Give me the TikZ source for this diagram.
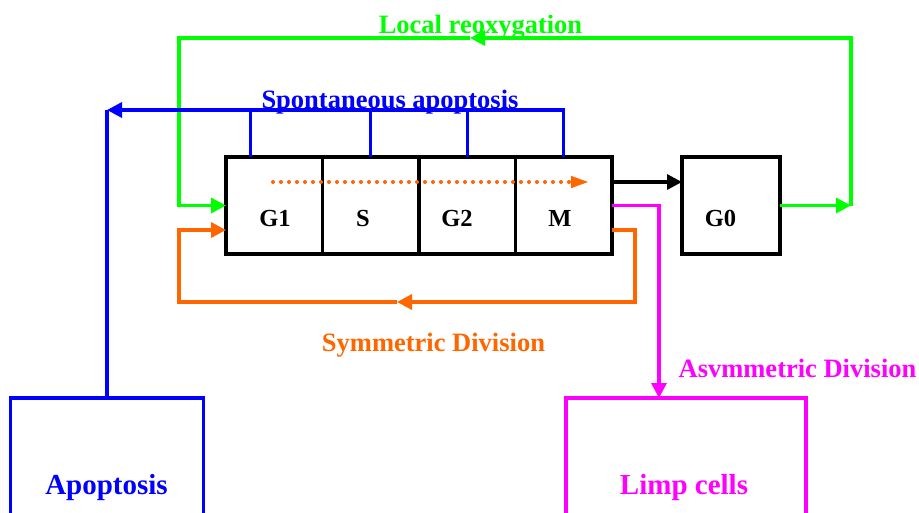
\documentclass[tikz,border=0pt]{standalone}
\usepackage{fontspec}
\setmainfont{Liberation Serif}
\usetikzlibrary{arrows.meta}
\definecolor{cgreen}{RGB}{0,255,0}
\definecolor{cblue}{RGB}{0,0,255}
\definecolor{corange}{RGB}{255,102,0}
\definecolor{cmag}{RGB}{255,0,255}
\begin{document}
\begin{tikzpicture}[x=1pt,y=-1pt, line width=3.3pt,
  cell/.style={draw=black, minimum width=96.5pt, minimum height=97pt, inner sep=0pt, outer sep=0pt},
  bigbox/.style={draw, minimum height=204pt, inner sep=0pt, outer sep=0pt},
  lbl/.style={font=\fontsize{24.5}{28}\selectfont\bfseries, anchor=base, inner sep=0pt},
  captxt/.style={font=\fontsize{26.5}{30}\selectfont\bfseries, anchor=base, inner sep=0pt},
  boxtxt/.style={font=\fontsize{29}{32}\selectfont\bfseries, anchor=base, inner sep=0pt},
  tip/.style={-{Triangle[length=15pt,width=15pt]}}]
\useasboundingbox (0,0) rectangle (919,512);
\clip (0,0) rectangle (919,512);
% cell cycle boxes
\node[cell] (G1) at (274.25,205.5) {};
\node[cell] (S)  at (370.75,205.5) {};
\node[cell] (G2) at (467.25,205.5) {};
\node[cell] (M)  at (563.75,205.5) {};
\node[cell, minimum width=98pt] (G0) at (731,205.5) {};
\node[lbl] (tG1) at (275,226) {G1};
\node[lbl] (tS)  at (363,226) {S};
\node[lbl] (tG2) at (457,226) {G2};
\node[lbl] (tM)  at (560,226) {M};
\node[lbl] (tG0) at (720.5,226) {G0};
% bottom boxes
\node[bigbox, draw=cblue, minimum width=193pt] (apo) at (107,500) {};
\node[bigbox, draw=cmag, minimum width=240pt] (limp) at (686,500) {};
\node[boxtxt, text=cblue] (tapo) at (106.5,494) {Apoptosis};
\node[boxtxt, text=cmag] (tlimp) at (684,494) {Limp cells};
% captions
\node[captxt, text=cgreen] (tloc) at (480.5,33) {Local reoxygation};
\node[captxt, text=cblue] (tspo) at (390,108) {Spontaneous apoptosis};
\node[captxt, text=corange] (tsym) at (433.5,351.7) {Symmetric Division};
\node[captxt, text=cmag] (tasy) at (797.5,377) {Asvmmetric Division};
% dotted progression arrow
\coordinate (dA) at (273,182);
\coordinate (dB) at (588,182);
\draw[corange, line width=4pt, line cap=round, dash pattern=on 0pt off 8pt] (dA) -- ([xshift=-14pt]dB);
\draw[corange, line width=1pt, -{Triangle[length=17pt,width=12pt]}] ([xshift=-16pt]dB) -- (dB);
% M -> G0
\draw[black, tip] ([yshift=23.5pt]M.east) -- ([yshift=23.5pt]G0.west);
% green local reoxygenation loop
\coordinate (gr) at (851,38);
\coordinate (gm) at (470,38);
\coordinate (gl) at (179,38);
\draw[cgreen, tip] (G0.east) -- (G0.east -| gr);
\draw[cgreen, tip] (G0.east -| gr) -- (gr) -- (gm);
\draw[cgreen, tip] (gm) -- (gl) -- (gl |- G1.west) -- (G1.west);
% blue spontaneous apoptosis
\coordinate (bl) at (107,110);
\draw[cblue] ([xshift=-23.5pt]G1.north) -- ([xshift=-23.5pt]G1.north |- bl);
\draw[cblue] (S.north) -- (S.north |- bl);
\draw[cblue] (G2.north) -- (G2.north |- bl);
\draw[cblue, tip] (M.north) -- (M.north |- bl) -- (bl);
\draw[cblue] (bl) -- (apo.north);
% orange symmetric division
\coordinate (or) at (635,302);
\coordinate (om) at (397,302);
\coordinate (ol) at (179,302);
\coordinate (mo) at ([yshift=-24.5pt]M.east);
\coordinate (go) at ([yshift=-24.5pt]G1.west);
\draw[corange, tip] (mo) -- (mo -| or) -- (or) -- (om);
\draw[corange, tip] (om) -- (ol) -- (ol |- go) -- (go);
% magenta asymmetric division
\coordinate (mc) at (659,205.5);
\draw[cmag, tip] (M.east) -- (mc) -- (mc |- limp.north);
\end{tikzpicture}
\end{document}
